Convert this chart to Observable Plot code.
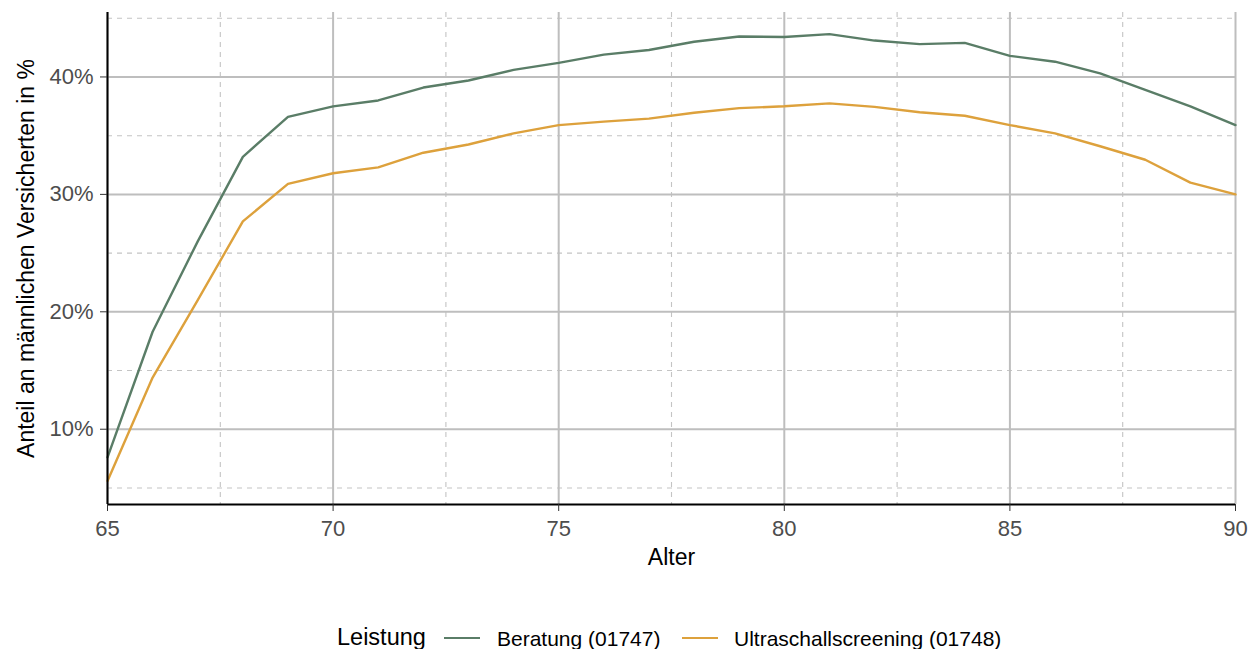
<!DOCTYPE html>
<html>
<head>
<meta charset="utf-8">
<script src="https://cdn.jsdelivr.net/npm/d3@7"></script>
<script src="https://cdn.jsdelivr.net/npm/@observablehq/plot@0.6"></script>
<style>
  html, body { margin: 0; padding: 0; background: #fff; }
  body { position: relative; width: 1255px; height: 649px; overflow: hidden; font-family: "Liberation Sans", Arial, sans-serif; }
  #chart svg { display: block; }
  .lg { position: absolute; line-height: 1; white-space: nowrap; color: #000; }
  .sw { position: absolute; height: 2.5px; }
</style>
</head>
<body>
<div id="chart"></div>
<div id="legend"></div>
<script>
const ages = [65,66,67,68,69,70,71,72,73,74,75,76,77,78,79,80,81,82,83,84,85,86,87,88,89,90];
const beratung = [7.6,18.3,26.0,33.2,36.6,37.5,38.0,39.1,39.7,40.6,41.2,41.9,42.3,43.0,43.45,43.4,43.65,43.1,42.8,42.9,41.8,41.3,40.3,38.9,37.5,35.9];
const ultraschall = [5.6,14.4,21.0,27.7,30.9,31.8,32.3,33.55,34.25,35.2,35.9,36.2,36.45,36.95,37.35,37.5,37.75,37.45,37.0,36.7,35.9,35.2,34.1,32.95,31.0,30.0];
const seriesNames = ["Beratung (01747)", "Ultraschallscreening (01748)"];
const seriesColors = ["#5a7d67", "#dda13c"];
const xMajor = [65,70,75,80,85,90];
const xMinor = [67.5,72.5,77.5,82.5,87.5];
const yMajor = [10,20,30,40];
const yMinor = [5,15,25,35,45];
const xTitle = "Alter";
const yTitle = "Anteil an männlichen Versicherten in %";
const legendTitle = "Leistung";

const data = [];
ages.forEach((a, i) => {
  data.push({age: a, value: beratung[i], series: seriesNames[0]});
  data.push({age: a, value: ultraschall[i], series: seriesNames[1]});
});

const font = '"Liberation Sans", Arial, sans-serif';

const chart = Plot.plot({
  width: 1255,
  height: 600,
  marginLeft: 107,
  marginRight: 20,
  marginTop: 12,
  marginBottom: 96,
  style: {fontFamily: font, background: "#fff"},
  x: {domain: [65, 90]},
  y: {domain: [3.59, 45.49]},
  color: {domain: seriesNames, range: seriesColors},
  marks: [
    Plot.ruleY(yMinor, {stroke: "#c4c4c4", strokeWidth: 1.1, strokeDasharray: "5,5"}),
    Plot.ruleX(xMinor, {stroke: "#c4c4c4", strokeWidth: 1.1, strokeDasharray: "5,5"}),
    Plot.ruleY(yMajor, {stroke: "#bebebe", strokeWidth: 2}),
    Plot.ruleX(xMajor, {stroke: "#bebebe", strokeWidth: 2}),
    Plot.lineY(data, {x: "age", y: "value", stroke: "series", strokeWidth: 2.4, strokeLinejoin: "round"}),
    Plot.ruleX([65], {stroke: "#000", strokeWidth: 2}),
    Plot.ruleY([3.59], {stroke: "#000", strokeWidth: 2}),
    Plot.axisX({ticks: xMajor, tickSize: 7, tickPadding: 9, fontSize: 22, stroke: "#333", fill: "#4d4d4d", label: null, tickFormat: d => String(d)}),
    Plot.axisY({ticks: yMajor, tickSize: 7, tickPadding: 7, fontSize: 22, stroke: "#333", fill: "#4d4d4d", label: null, tickFormat: d => d + "%"}),
    Plot.text([xTitle], {frameAnchor: "bottom", dy: 53, fontSize: 23, fill: "#000", lineAnchor: "middle", text: d => d}),
    Plot.text([yTitle], {frameAnchor: "left", dx: -81, rotate: -90, fontSize: 23, fill: "#000", lineAnchor: "middle", textAnchor: "middle", text: d => d})
  ]
});
document.getElementById("chart").appendChild(chart);

// legend
const lg = document.getElementById("legend");
function add(cls, txt, style) {
  const el = document.createElement("div");
  el.className = cls;
  if (txt) el.textContent = txt;
  Object.assign(el.style, style);
  lg.appendChild(el);
}
add("lg", legendTitle, {left: "337px", top: "625.5px", fontSize: "23.5px"});
add("sw", "", {left: "444px", top: "636.5px", width: "36px", background: seriesColors[0]});
add("lg", seriesNames[0], {left: "497px", top: "627.7px", fontSize: "21px"});
add("sw", "", {left: "682px", top: "636.5px", width: "36px", background: seriesColors[1]});
add("lg", seriesNames[1], {left: "734px", top: "627.7px", fontSize: "21px"});
</script>
</body>
</html>
